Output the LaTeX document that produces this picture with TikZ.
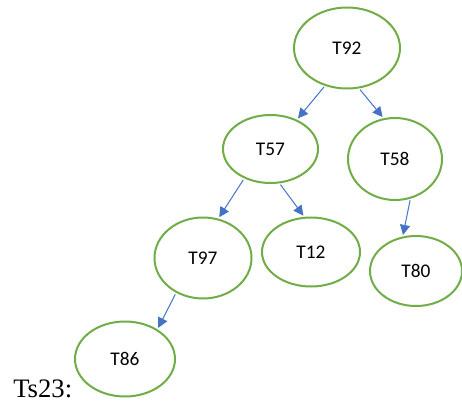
\documentclass[tikz,border=0pt]{standalone}
\usepackage{fontspec}
\setmainfont{Liberation Serif}
\newfontfamily\lblfont{Carlito}
\usetikzlibrary{arrows.meta,shapes.geometric}
\definecolor{leafgreen}{HTML}{70AD47}
\definecolor{edgeblue}{HTML}{4472C4}
\begin{document}
\begin{tikzpicture}[x=0.75pt, y=-0.75pt,
    tnode/.style 2 args={ellipse, draw=leafgreen, line width=1.5pt, inner sep=0pt, outer sep=0pt,
        minimum width=#1*0.75pt, minimum height=#2*0.75pt, font=\lblfont\fontsize{14.5}{17}\selectfont},
    tedge/.style={draw=edgeblue, line width=0.75pt, shorten <=2pt, shorten >=2pt,
        -{Triangle[length=7.5pt,width=7.5pt,fill=edgeblue]}}]
            \useasboundingbox (0,0) rectangle (462,401);
            \node[tnode={106}{81}] (t92) at (347,48) {T92};
            \node[tnode={95}{68}] (t57) at (270.5,149) {T57};
            \node[tnode={94}{82}] (t58) at (395,159) {T58};
            \node[tnode={97}{81}] (t97) at (203,258) {T97};
            \node[tnode={98}{69}] (t12) at (311,252) {T12};
            \node[tnode={92}{70}] (t80) at (416,271) {T80};
            \node[tnode={100}{75}] (t86) at (125,359) {T86};
            \node[anchor=base west, inner sep=0pt, font=\fontsize{20}{22}\selectfont] (ts) at (13,397) {Ts23:};
            \foreach \a/\i/\b/\j in {t92/240/t57/48, t92/286/t58/105, t57/228/t97/69,
                t57/284/t12/100, t58/292/t80/112, t97/232/t86/42}
                \draw[tedge] (\a.\i) -- (\b.\j);
        \end{tikzpicture}
\end{document}
